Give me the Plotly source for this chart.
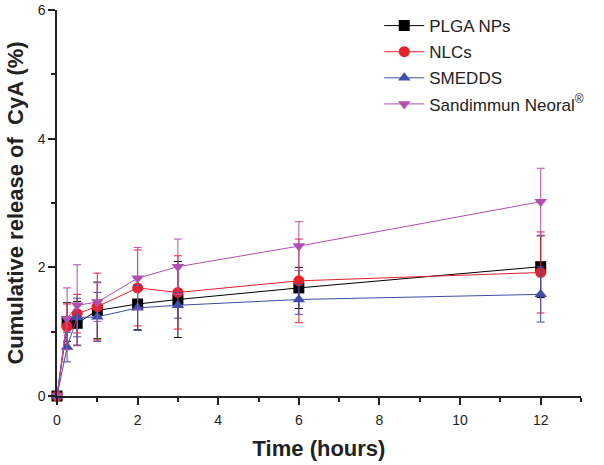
import plotly.graph_objects as go

time_h = [0, 0.25, 0.5, 1, 2, 3, 6, 12]

plga = [0, 1.15, 1.13, 1.33, 1.43, 1.50, 1.68, 2.01]
plga_err = [0, 0.30, 0.34, 0.44, 0.40, 0.59, 0.32, 0.48]

nlcs = [0, 1.08, 1.28, 1.39, 1.68, 1.61, 1.79, 1.92]
nlcs_err = [0, 0.35, 0.30, 0.52, 0.59, 0.57, 0.65, 0.63]

smedds = [0, 0.76, 1.22, 1.23, 1.37, 1.41, 1.50, 1.58]
smedds_err = [0, 0.23, 0.30, 0.38, 0.35, 0.20, 0.23, 0.43]

sand = [0, 1.20, 1.41, 1.46, 1.83, 2.01, 2.33, 3.02]
sand_err = [0, 0.48, 0.63, 0.30, 0.48, 0.43, 0.38, 0.52]

series = [
    ("PLGA NPs", plga, plga_err, "#000000", "square"),
    ("NLCs", nlcs, nlcs_err, "#e8202a", "circle"),
    ("SMEDDS", smedds, smedds_err, "#3d4da8", "triangle-up"),
    ("Sandimmun Neoral<sup>®</sup>", sand, sand_err, "#b24fb0", "triangle-down"),
]

fig = go.Figure()
for i, (name, y, e, c, sym) in enumerate(series):
    fig.add_trace(go.Scatter(
        x=time_h, y=y, name=name, mode="lines+markers", legendgroup=f"g{i}",
        line=dict(color=c, width=1),
        marker=dict(color=c, symbol=sym, size=11),
        error_y=dict(type="data", array=e, visible=True, color=c, thickness=1, width=4),
        cliponaxis=False,
    ))

fig.update_layout(
    width=604, height=465,
    margin=dict(l=57, r=23, t=8, b=69),
    paper_bgcolor="white", plot_bgcolor="white",
    font=dict(family="Liberation Sans, Arial, sans-serif", color="#222", size=14),
    showlegend=True,
    legend=dict(x=0.615, y=1.005, xanchor="left", yanchor="top",
                bgcolor="rgba(0,0,0,0)", font=dict(size=17),
                tracegroupgap=1, itemwidth=40),
    xaxis=dict(
        range=[0, 13], tickvals=[0, 2, 4, 6, 8, 10, 12], automargin=False,
        ticks="outside", ticklen=7, tickwidth=1.5, tickcolor="#222",
        showline=True, linecolor="#222", linewidth=1.5, showgrid=False, zeroline=False,
        minor=dict(tickvals=[1, 3, 5, 7, 9, 11, 13], ticks="outside", ticklen=4, tickcolor="#222", tickwidth=1.5),
        title=dict(text="<b>Time (hours)</b>", font=dict(size=22, color="#222"), standoff=14),
        tickfont=dict(size=14), ticklabelstandoff=3,
    ),
    yaxis=dict(
        range=[0, 6.0001], tickvals=[0, 2, 4, 6], automargin=False,
        ticks="outside", ticklen=7, tickwidth=1.5, tickcolor="#222",
        showline=True, linecolor="#222", linewidth=1.5, showgrid=False, zeroline=False,
        minor=dict(tickvals=[1, 3, 5], ticks="outside", ticklen=4, tickcolor="#222", tickwidth=1.5),
        title=dict(text="<b>Cumulative release of  CyA (%)</b>", font=dict(size=22, color="#222"), standoff=8),
        tickfont=dict(size=14), ticklabeloverflow="allow",
    ),
)

fig.write_html("out.html", config={"displayModeBar": False},
               post_script="document.body.style.margin='0';")
